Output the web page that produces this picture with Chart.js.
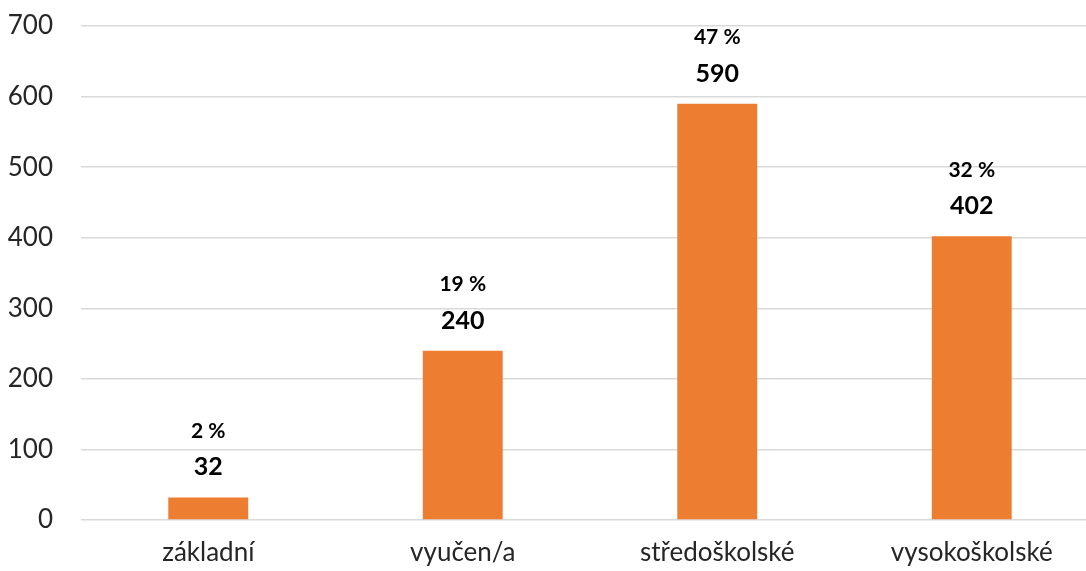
<!DOCTYPE html>
<html>
<head>
<meta charset="utf-8">
<script src="https://cdn.jsdelivr.net/npm/chart.js@4"></script>
<style>
html,body{margin:0;padding:0;background:#fff;overflow:hidden;}
#wrap{width:1100px;height:571px;position:relative;}
</style>
</head>
<body>
<div id="wrap"><canvas id="c"></canvas></div>
<script>
const categories = ['základní', 'vyučen/a', 'středoškolské', 'vysokoškolské'];
const counts = [32, 240, 590, 402];
const percents = ['2 %', '19 %', '47 %', '32 %'];
const yTicks = [0, 100, 200, 300, 400, 500, 600, 700];

const labelPlugin = {
  id: 'barLabels',
  afterDatasetsDraw(chart) {
    const ctx = chart.ctx;
    const meta = chart.getDatasetMeta(0);
    ctx.save();
    ctx.fillStyle = '#000';
    ctx.textAlign = 'center';
    ctx.textBaseline = 'middle';
    meta.data.forEach((bar, i) => {
      ctx.font = 'bold 25px Lato, "Open Sans", sans-serif';
      ctx.fillText(String(counts[i]), bar.x, bar.y - 30);
      ctx.font = 'bold 21px Lato, "Open Sans", sans-serif';
      ctx.fillText(percents[i], bar.x, bar.y - 66);
    });
    ctx.restore();
  }
};

new Chart(document.getElementById('c'), {
  type: 'bar',
  data: {
    labels: categories,
    datasets: [{
      data: counts,
      backgroundColor: '#ED7D31',
      borderWidth: 0,
      categoryPercentage: 1,
      barPercentage: 0.314
    }]
  },
  options: {
    responsive: true,
    maintainAspectRatio: false,
    animation: false,
    layout: { padding: { top: 26, right: 1, left: 0, bottom: 0 } },
    plugins: { legend: { display: false }, tooltip: { enabled: false } },
    scales: {
      x: {
        grid: { display: false, drawTicks: false },
        border: { display: false },
        ticks: {
          color: '#262626',
          font: { family: 'Lato, "Open Sans", sans-serif', size: 26 },
          padding: 17,
          maxRotation: 0
        },
        afterFit(scale) { scale.height = 51; }
      },
      y: {
        min: 0,
        max: 700,
        afterBuildTicks(scale) { scale.ticks = yTicks.map(v => ({ value: v })); },
        grid: { color: '#D9D9D9', lineWidth: 1.5, drawTicks: false },
        border: { display: false },
        ticks: {
          color: '#262626',
          font: { family: 'Lato, "Open Sans", sans-serif', size: 26 },
          padding: 28
        },
        afterFit(scale) {
          scale.width = 81;
          scale.paddingTop = 0;
          scale.paddingBottom = 0;
        }
      }
    }
  },
  plugins: [labelPlugin]
});
</script>
</body>
</html>
